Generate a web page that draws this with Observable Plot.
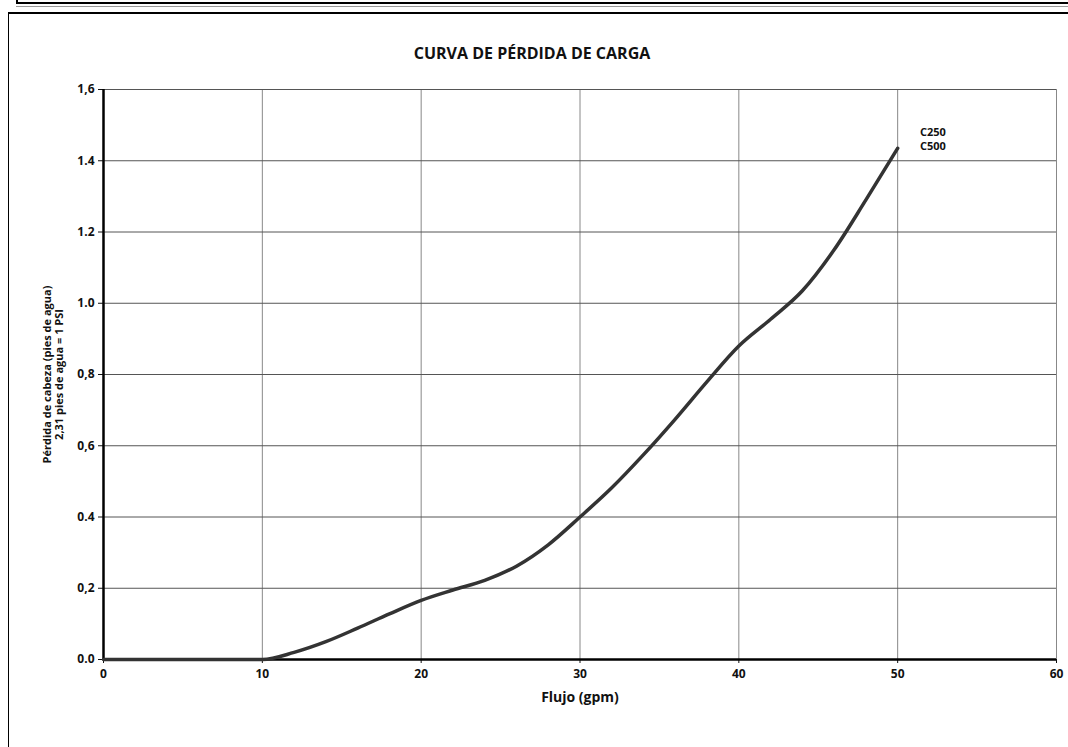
<!DOCTYPE html>
<html>
<head>
<meta charset="utf-8">
<script src="https://cdn.jsdelivr.net/npm/d3@7"></script>
<script src="https://cdn.jsdelivr.net/npm/@observablehq/plot@0.6"></script>
<style>
  html, body { margin: 0; padding: 0; background: #fff; }
  #wrap { position: relative; width: 1068px; height: 747px; overflow: hidden; font-family: "Open Sans", "Noto Sans", sans-serif; }
  #topbox { position: absolute; left: 16px; top: -4px; width: 1100px; height: 6px; border: 2px solid #000; border-top: none; }
  #topline { position: absolute; left: 16px; top: 6px; width: 1100px; height: 0; border-top: 1px solid #999; }
  #frame { position: absolute; left: 8px; top: 12px; width: 1100px; height: 800px; border-left: 1px solid #000; border-top: 2px solid #000; }
  #title { position: absolute; left: 0; width: 1068px; top: 42px; font-weight: 700; font-size: 16px; color: #111; }
  #title span { position: absolute; left: 532px; transform: translateX(-50%); white-space: nowrap; }
  #chart { position: absolute; left: 0; top: 0; }
</style>
</head>
<body>
<div id="wrap">
  <div id="topbox"></div>
  <div id="topline"></div>
  <div id="frame"></div>
  <div id="chart"></div>
  <div id="title"><span>CURVA DE PÉRDIDA DE CARGA</span></div>
</div>
<script>
const flow = [0, 5, 10, 12, 14, 16, 18, 20, 22, 24, 26, 28, 30, 32, 34, 36, 38, 40, 42, 44, 46, 48, 50];
const loss = [0, 0, 0, 0.02, 0.05, 0.088, 0.128, 0.166, 0.195, 0.222, 0.262, 0.322, 0.40, 0.482, 0.575, 0.675, 0.78, 0.88, 0.955, 1.035, 1.15, 1.29, 1.435];
const yTicks = [0, 0.2, 0.4, 0.6, 0.8, 1.0, 1.2, 1.4, 1.6];
const yTickLabels = ["0.0", "0,2", "0.4", "0,6", "0,8", "1.0", "1.2", "1.4", "1,6"];
const xTicks = [0, 10, 20, 30, 40, 50, 60];
const seriesLabels = ["C250", "C500"];
const seriesLabelY = [1.478, 1.44];
const xTitle = "Flujo (gpm)";
const yTitle = ["Pérdida de cabeza (pies de agua)", "2,31 pies de agua = 1 PSI"];

const data = flow.map((x, i) => ({x, y: loss[i]}));
const labelData = seriesLabels.map((t, i) => ({t, y: seriesLabelY[i]}));

const chart = Plot.plot({
  width: 1068,
  height: 747,
  marginLeft: 103,
  marginRight: 12,
  marginTop: 89,
  marginBottom: 88,
  style: {fontFamily: "'Open Sans', 'Noto Sans', sans-serif", fontSize: "12px", fontWeight: "700", color: "#111", background: "transparent"},
  x: {domain: [0, 60], ticks: xTicks, tickSize: 4, tickPadding: 6, label: null},
  y: {domain: [0, 1.6], ticks: yTicks, tickSize: 5, tickPadding: 4, label: null,
      tickFormat: d => yTickLabels[yTicks.findIndex(t => Math.abs(t - d) < 1e-9)]},
  marks: [
    Plot.gridX(xTicks.slice(1), {stroke: "#888", strokeOpacity: 1, strokeWidth: 1}),
    Plot.gridY(yTicks.slice(1), {stroke: "#555", strokeOpacity: 1, strokeWidth: 1}),
    Plot.ruleX([0], {stroke: "#000", strokeWidth: 2.5}),
    Plot.ruleY([0], {stroke: "#000", strokeWidth: 2.5}),
    Plot.line(data, {x: "x", y: "y", stroke: "#333", strokeWidth: 3.5, curve: "monotone-x"}),
    Plot.text(labelData, {x: () => 51.4, y: "y", text: "t", textAnchor: "start", fontSize: 11, fontWeight: 700, fill: "#111"}),
    Plot.text([xTitle], {frameAnchor: "bottom", dy: 42, text: d => d, fontSize: 14, fontWeight: 700, fill: "#111"}),
    Plot.text([yTitle.join("\n")], {frameAnchor: "left", dx: -50, text: d => d, textAnchor: "middle", rotate: -90, fontSize: 11, fontWeight: 700, lineHeight: 1.1, fill: "#111"})
  ]
});
document.getElementById("chart").appendChild(chart);
</script>
</body>
</html>
